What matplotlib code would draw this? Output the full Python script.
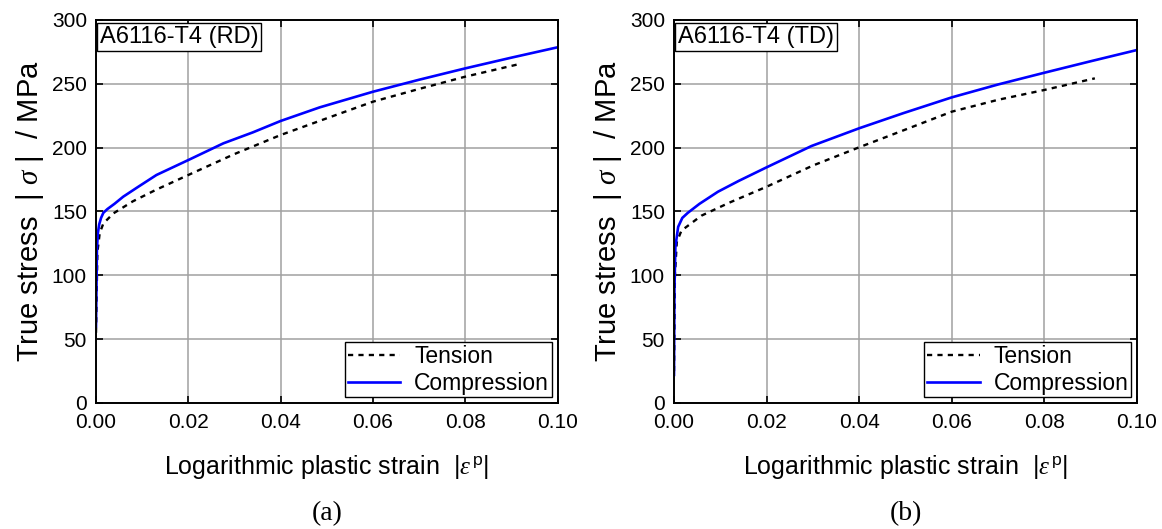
import matplotlib
matplotlib.use("Agg")
import matplotlib.pyplot as plt

plt.rcParams['font.family'] = ['Liberation Sans', 'DejaVu Sans']
plt.rcParams['mathtext.fontset'] = 'custom'
plt.rcParams['mathtext.it'] = 'Liberation Serif:italic'
plt.rcParams['mathtext.rm'] = 'Liberation Sans'

# RD (rolling direction) curves
rd_comp_strain = [0, 0.0002, 0.0004, 0.0007, 0.0011, 0.0016, 0.0025, 0.004, 0.0059, 0.009,
                  0.0131, 0.02, 0.0276, 0.034, 0.04, 0.0485, 0.06, 0.07, 0.08, 0.09, 0.1]
rd_comp_stress = [60, 120, 133, 140, 145, 149, 152, 156, 161.6, 169,
                  178.6, 190.3, 203.4, 212, 220.9, 231.6, 243.8, 253.2, 262.1, 270.5, 278.6]
rd_tens_strain = [0, 0.0003, 0.0008, 0.0016, 0.0038, 0.008, 0.013, 0.02, 0.03, 0.04,
                  0.05, 0.06, 0.07, 0.08, 0.0915]
rd_tens_stress = [55, 118, 133, 140.7, 148.6, 158, 167, 178.6, 195, 209.9,
                  223, 236, 246, 255.6, 265.3]

# TD (transverse direction) curves
td_comp_strain = [0, 0.0001, 0.0003, 0.0009, 0.0018, 0.003, 0.0055, 0.0095, 0.014, 0.02,
                  0.0297, 0.04, 0.0495, 0.06, 0.07, 0.08, 0.09, 0.1]
td_comp_stress = [22, 90, 122.4, 138, 145, 149, 156, 165.5, 174, 184.6,
                  201.3, 215.2, 227, 239.4, 249.5, 258.7, 267.7, 276.5]
td_tens_strain = [0, 0.0002, 0.0006, 0.0016, 0.0059, 0.012, 0.02, 0.03, 0.04, 0.0495,
                  0.06, 0.07, 0.08, 0.0909]
td_tens_stress = [25, 100, 126, 135, 146.7, 157, 169.4, 186, 200.3, 213.5,
                  228.2, 237.5, 245.2, 254.3]

x_ticks = [0.00, 0.02, 0.04, 0.06, 0.08, 0.10]
y_ticks = [0, 50, 100, 150, 200, 250, 300]

panels = [
    ("A6116-T4 (RD)", "(a)", rd_tens_strain, rd_tens_stress, rd_comp_strain, rd_comp_stress),
    ("A6116-T4 (TD)", "(b)", td_tens_strain, td_tens_stress, td_comp_strain, td_comp_stress),
]

fig = plt.figure(figsize=(11.62, 5.29), dpi=100)
lefts = [96 / 1162, 674 / 1162]
widths = [461.5 / 1162, 463 / 1162]

for i, (title, cap, ts, tsig, cs, csig) in enumerate(panels):
    ax = fig.add_axes([lefts[i], 126 / 529, widths[i], 383 / 529])
    ax.grid(True, color='#a0a0a0', linewidth=1.1)
    ax.set_axisbelow(True)
    ax.plot(ts, tsig, color='black', linestyle=(0, (2.2, 2.2)), linewidth=1.7, label='Tension')
    ax.plot(cs, csig, color='blue', linewidth=1.9, label='Compression')
    ax.set_xlim(0, 0.1)
    ax.set_ylim(0, 300)
    ax.set_xticks(x_ticks)
    ax.set_yticks(y_ticks)
    ax.set_xticklabels([f"{v:.2f}" for v in x_ticks])
    ax.tick_params(direction='in', top=True, right=True, length=5, width=1.2, labelsize=15)
    ax.tick_params(axis='x', pad=7.5)
    ax.tick_params(axis='y', pad=6.5)
    for sp in ax.spines.values():
        sp.set_linewidth(1.4)
    ax.set_xlabel(r"Logarithmic plastic strain  |$\varepsilon^{\,\mathrm{p}}$|", fontsize=18, labelpad=15)
    ax.set_ylabel(r"True stress  | $\sigma$ |  / MPa", fontsize=21, labelpad=4)
    ax.text(0.008, 0.985, title, transform=ax.transAxes, fontsize=17, va='top', ha='left',
            bbox=dict(boxstyle='square,pad=0.12', facecolor='white', edgecolor='black', linewidth=1))
    leg = ax.legend(loc='lower right', fontsize=16.5, frameon=True, fancybox=False,
                    edgecolor='black', framealpha=1, borderpad=0.12, labelspacing=0.15,
                    handlelength=2.3, handletextpad=0.6, borderaxespad=0.25)
    leg.get_frame().set_linewidth(1.0)
    ax.text(0.5, -0.29, cap, transform=ax.transAxes, ha='center', va='center',
            fontsize=20, family='Liberation Serif')

fig.savefig("out.png", dpi=100)
